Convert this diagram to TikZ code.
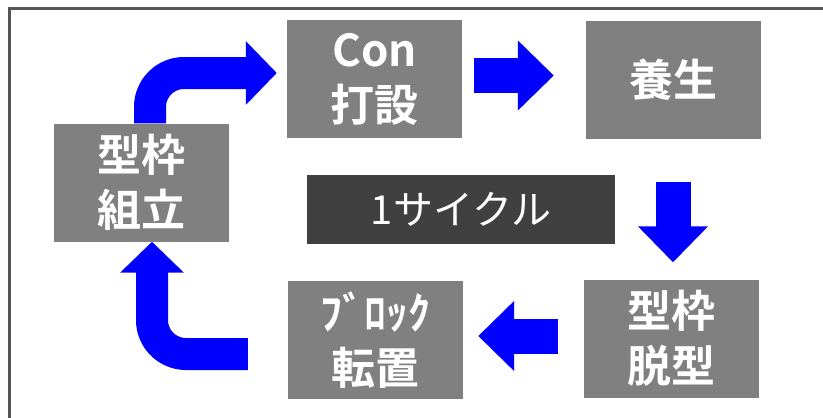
\documentclass[tikz,border=0pt]{standalone}
\usepackage{fontspec}
\setmainfont{Noto Sans CJK JP}[BoldFont={Noto Sans CJK JP Bold}]
\usetikzlibrary{arrows.meta}
\usepackage{xcolor}
\definecolor{boxgray}{HTML}{808080}
\definecolor{boxdark}{HTML}{404040}
\definecolor{framegray}{HTML}{555555}

\begin{document}
\begin{tikzpicture}[x=1pt, y=-1pt]
 \tikzstyle{stage}=[rectangle, fill=boxgray, text=white, align=center,
                    minimum width=175, minimum height=118, inner sep=0pt,
                    font=\bfseries\fontsize{44}{55}\selectfont]
 \tikzstyle{flowarrow}=[draw=blue, line width=35pt,
                   -{Triangle[length=36pt, width=68pt, fill=blue]}]
 \tikzstyle{bendarrow}=[draw=blue, line width=32pt, rounded corners=34pt,
                   -{Triangle[length=31pt, width=62pt, fill=blue]}]

\useasboundingbox (0,0) rectangle (823,418);
\draw[framegray, line width=3pt] (9,8.5) rectangle (840,440);

 \node[stage] (kumitate) at (141,182.5) {型枠\\組立};
 \node[stage] (kon) at (374.5,79) {Con\\打設};
 \node[stage] (yojo) at (673.5,80) {養生};
 \node[stage] (dakkei) at (671.5,338.5) {型枠\\脱型};
 \node[stage] (tenchi) at (375.5,340) {ﾌﾞﾛｯｸ\\転置};
 \node[rectangle, fill=boxdark, text=white, minimum width=308, minimum height=69,
       inner sep=0pt, font=\fontsize{40}{48}\selectfont] (cycle) at (461,209.5) {1サイクル};

 \draw[flowarrow] ([xshift=12pt, yshift=3.5pt]kon.east) -- ([xshift=-32pt, yshift=3.5pt]kon.east -| yojo.west);
 \draw[flowarrow] ([xshift=-0.5pt, yshift=-43pt]yojo.south) -- ([xshift=-0.5pt, yshift=17pt]yojo.south |- dakkei.north);
 \draw[flowarrow] ([xshift=-26pt, yshift=2.5pt]dakkei.west) -- ([xshift=15pt, yshift=2.5pt]dakkei.west -| tenchi.east);

 \draw[bendarrow] ([xshift=9pt]kumitate.north) |- ([xshift=-10pt, yshift=6pt]kon.west);
 \draw[bendarrow] ([xshift=-40pt, yshift=-14pt]tenchi.west) -| ([xshift=11pt]kumitate.south);

\end{tikzpicture}
\end{document}
